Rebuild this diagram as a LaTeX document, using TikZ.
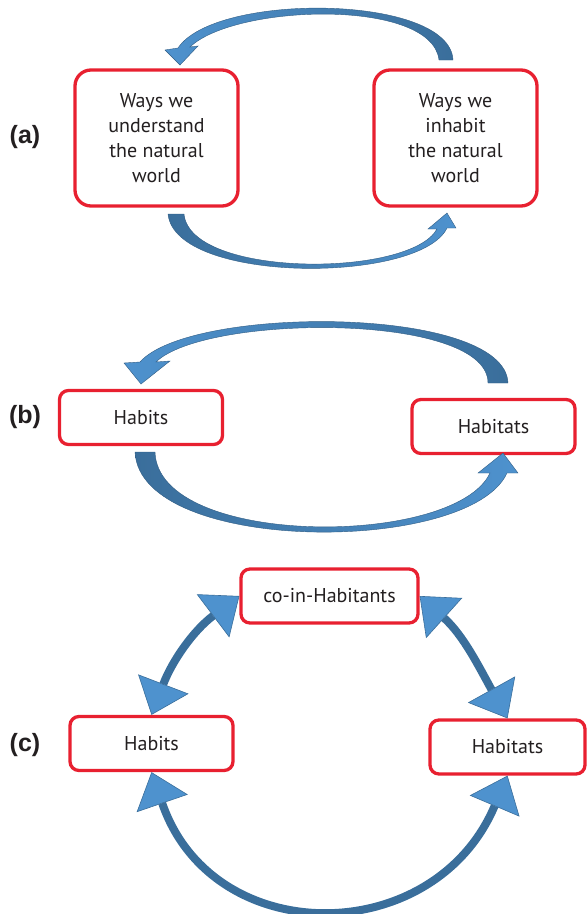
\documentclass[tikz,border=0pt]{standalone}
\usepackage{fontspec}
\setmainfont{PT Sans}
\newfontfamily\labelfont{Liberation Sans}
\usetikzlibrary{arrows.meta,positioning}
\usepackage{xcolor}
\definecolor{boxred}{RGB}{232,32,48}
\definecolor{arrowdark}{RGB}{58,110,155}
\definecolor{arrowlight}{RGB}{78,146,206}
\definecolor{textgray}{RGB}{35,31,32}

\begin{document}
\begin{tikzpicture}[x=1pt,y=1pt,
  % Red rounded boxes (a) are tall, (b)/(c) are flat
  bigbox/.style={draw=boxred,line width=3.3pt,fill=white,rounded corners=16pt,
                 rectangle,minimum width=163pt,minimum height=136pt,inner sep=0pt,
                 align=center,font=\fontsize{20}{25}\selectfont,text=textgray},
  smallbox/.style={bigbox,rounded corners=9pt,minimum height=54pt},
  % Panel letters
  tag/.style={font=\labelfont\bfseries\fontsize{25}{30}\selectfont,text=textgray},
  % Tapered block arrows, dark tail and light head
  taper/.style={draw=arrowdark!85!black,line width=0.4pt},
  % Ring of double arrows in (c)
  ring/.style={draw=arrowdark,line width=8pt,
               >={Triangle[length=33pt,width=54pt,fill=arrowlight,
                           color=arrowdark,line width=0.6pt]},<->}
]
  \useasboundingbox (0,0) rectangle (587,-914);

  % ---- Nodes (1 unit = 1pt, y going down) ----
  \node[tag]      (tagA)      at (25,-137)    {(a)};
  \node[bigbox]   (understand) at (156.5,-138) {Ways we\\understand\\the natural\\world};
  \node[bigbox]   (inhabit)   at (455.5,-138) {Ways we\\inhabit\\the natural\\world};

  \node[tag]      (tagB)      at (25,-417)    {(b)};
  \node[smallbox] (habitsB)   at (141,-417.5) {Habits};
  \node[smallbox] (habitatsB) at (493.5,-426.5) {Habitats};

  \node[tag]      (tagC)      at (25,-745)    {(c)};
  \node[smallbox,minimum width=177pt] (coinhab) at (329.5,-596) {co-in-Habitants};
  \node[smallbox] (habitsC)   at (151.5,-743.5) {Habits};
  \node[smallbox,minimum width=155pt] (habitatsC) at (507.5,-747) {Habitats};

  % ---- (a) curved block arrows ----
  % top: inhabit -> understand
  \path[taper,left color=arrowlight,right color=arrowdark]
    (439,-60) -- (453,-60) .. controls (450,6) and (215,8) .. (178,-48)
    -- (165,-50) -- (180,-65) -- (198,-46) -- (190,-47)
    .. controls (235,-4) and (432,2) .. cycle;
  % bottom: understand -> inhabit
  \path[taper,left color=arrowdark,right color=arrowlight]
    (168,-214) -- (184,-214) .. controls (190,-278) and (410,-278) .. (437,-229)
    -- (428,-229) -- (447,-213) -- (456,-228) -- (447,-228)
    .. controls (420,-284) and (175,-284) .. cycle;

  % ---- (b) curved block arrows ----
  \path[taper,left color=arrowlight,right color=arrowdark]
    (488,-383) -- (508,-383) .. controls (505,-305) and (190,-305) .. (140,-362)
    -- (124,-363) -- (141,-384) -- (170,-361) -- (156,-362)
    .. controls (205,-314) and (488,-312) .. cycle;
  \path[taper,left color=arrowdark,right color=arrowlight]
    (135,-452) -- (155,-452) .. controls (158,-548) and (455,-548) .. (490,-473)
    -- (478,-473) -- (503,-453) -- (518,-473) -- (507,-473)
    .. controls (470,-555) and (140,-555) .. cycle;

  % ---- (c) ring ----
  \draw[ring] (coinhab.west)  to[out=217,in=69] (habitsC.north);
  \draw[ring] (coinhab.east)  to[out=-42,in=119] (habitatsC.north);
  \draw[ring] (habitsC.south) to[out=-71,in=247,looseness=1.35] (habitatsC.south);
\end{tikzpicture}
\end{document}
